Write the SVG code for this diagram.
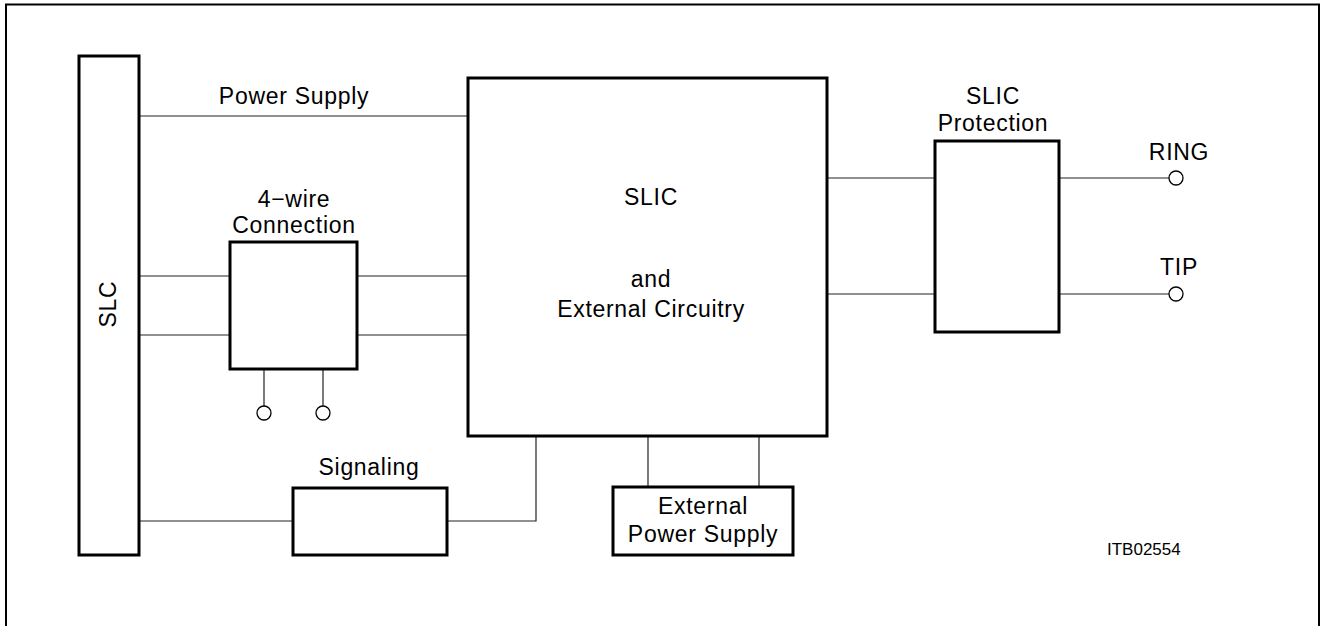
<svg xmlns="http://www.w3.org/2000/svg" width="1323" height="626" viewBox="0 0 1323 626">
<style>
.box{fill:#fff;stroke:#000;stroke-width:3}
.w{fill:none;stroke:#222;stroke-width:1.2}
.pin{fill:#fff;stroke:#000;stroke-width:1.3}
text{font-family:"Liberation Sans",Arial,sans-serif;font-size:23px;fill:#000;text-anchor:middle;letter-spacing:0.7px}
.id{font-size:17px;letter-spacing:0;text-anchor:start}
</style>
<rect width="1323" height="626" fill="#fff"/>
<path d="M6,626 V4.5 H1319 V626" fill="none" stroke="#000" stroke-width="2"/>
<g id="connectors">
<path class="w" d="M139,116 H468"/>
<path class="w" d="M139,276 H230 M357,276 H468"/>
<path class="w" d="M139,335 H230 M357,335 H468"/>
<path class="w" d="M264,369 V406 M323,369 V406"/>
<path class="w" d="M139,521 H293 M447,521 H536 V436"/>
<path class="w" d="M648,436 V487 M759,436 V487"/>
<path class="w" d="M827,178 H935 M827,294 H935"/>
<path class="w" d="M1059,178 H1169 M1059,294 H1169"/>
</g>
<g id="slc">
<rect class="box" x="79" y="56" width="60" height="499"/>
<text transform="translate(116,304) rotate(-90)">SLC</text>
</g>
<text x="294" y="104">Power Supply</text>
<g id="fourwire">
<rect class="box" x="230" y="242" width="127" height="127"/>
<text x="294" y="207">4−wire</text>
<text x="294" y="233">Connection</text>
<circle class="pin" cx="264" cy="413" r="7"/>
<circle class="pin" cx="323" cy="413" r="7"/>
</g>
<g id="signaling">
<rect class="box" x="293" y="488" width="154" height="67"/>
<text x="369" y="475">Signaling</text>
</g>
<g id="slic">
<rect class="box" x="468" y="78" width="359" height="358"/>
<text x="651" y="205">SLIC</text>
<text x="651" y="287">and</text>
<text x="651" y="317">External Circuitry</text>
</g>
<g id="extpower">
<rect class="box" x="613" y="487" width="180" height="68"/>
<text x="703" y="514">External</text>
<text x="703" y="542">Power Supply</text>
</g>
<g id="protection">
<rect class="box" x="935" y="141" width="124" height="191"/>
<text x="993" y="104">SLIC</text>
<text x="993" y="131">Protection</text>
</g>
<g id="ring">
<circle class="pin" cx="1176" cy="178" r="7"/>
<text x="1179" y="160">RING</text>
</g>
<g id="tip">
<circle class="pin" cx="1176" cy="294" r="7"/>
<text x="1179" y="275">TIP</text>
</g>
<text class="id" x="1107" y="555">ITB02554</text>
</svg>
